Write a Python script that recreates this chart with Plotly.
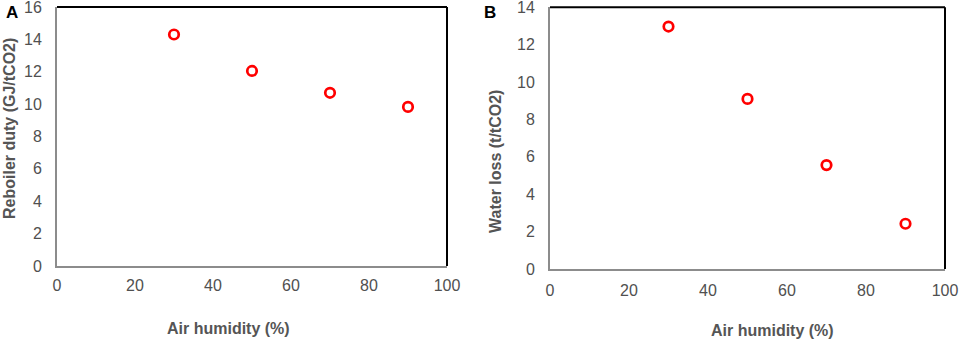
import plotly.graph_objects as go

humidity = [30, 50, 70, 90]
reboiler_duty = [14.3, 12.05, 10.7, 9.83]
water_loss = [12.97, 9.10, 5.56, 2.42]
x_ticks = [0, 20, 40, 60, 80, 100]
y_ticks_a = [0, 2, 4, 6, 8, 10, 12, 14, 16]
y_ticks_b = [0, 2, 4, 6, 8, 10, 12, 14]

W, H = 960, 340
fig = go.Figure()
marker = dict(symbol="circle-open", size=9.5, color="#FF0000", line=dict(width=2.7, color="#FF0000"))
fig.add_trace(go.Scatter(x=humidity, y=reboiler_duty, mode="markers", marker=marker,
                         xaxis="x", yaxis="y", showlegend=False, cliponaxis=False))
fig.add_trace(go.Scatter(x=humidity, y=water_loss, mode="markers", marker=marker,
                         xaxis="x2", yaxis="y2", showlegend=False, cliponaxis=False))

tickfont = dict(family="Liberation Sans, Arial", size=16, color="#505050")
axis_common = dict(showgrid=False, zeroline=False, showline=True, linecolor="#8C8C8C",
                   linewidth=2, ticks="", tickfont=tickfont, automargin=False,
                   ticklabeloverflow="allow")

fig.update_layout(
    width=W, height=H, margin=dict(l=0, r=0, t=0, b=0, autoexpand=False),
    paper_bgcolor="white", plot_bgcolor="white",
    xaxis=dict(domain=[57/W, 447/W], range=[0, 100], tickvals=x_ticks, anchor="y", ticklabelstandoff=4, **axis_common),
    yaxis=dict(domain=[1-266/H, 1-7/H], range=[0, 16], tickvals=y_ticks_a, anchor="x", ticklabelstandoff=10, **axis_common),
    xaxis2=dict(domain=[550/W, 945/W], range=[0, 100], tickvals=x_ticks, anchor="y2", ticklabelstandoff=6, **axis_common),
    yaxis2=dict(domain=[1-269/H, 1-7.3/H], range=[0, 14], tickvals=y_ticks_b, anchor="x2", ticklabelstandoff=10, **axis_common),
)

# top and right frame lines (black)
for xr, yr in [("x", "y"), ("x2", "y2")]:
    fig.add_shape(type="line", xref=f"{xr} domain", yref=f"{yr} domain", x0=0, x1=1, y0=1, y1=1,
                  line=dict(color="black", width=2))
    fig.add_shape(type="line", xref=f"{xr} domain", yref=f"{yr} domain", x0=1, x1=1, y0=0, y1=1,
                  line=dict(color="black", width=2))

title_font = dict(family="Liberation Sans, Arial", size=16, color="#555555")
fig.add_annotation(text="<b>Air humidity (%)</b>", xref="paper", yref="paper", x=228/W, y=1-328/H,
                   showarrow=False, font=title_font, xanchor="center", yanchor="middle")
fig.add_annotation(text="<b>Air humidity (%)</b>", xref="paper", yref="paper", x=772/W, y=1-330/H,
                   showarrow=False, font=title_font, xanchor="center", yanchor="middle")
fig.add_annotation(text="<b>Reboiler duty (GJ/tCO2)</b>", xref="paper", yref="paper", x=9/W, y=1-129/H,
                   showarrow=False, font=title_font, textangle=-90, xanchor="center", yanchor="middle")
fig.add_annotation(text="<b>Water loss (t/tCO2)</b>", xref="paper", yref="paper", x=495/W, y=1-162/H,
                   showarrow=False, font=title_font, textangle=-90, xanchor="center", yanchor="middle")

panel_font = dict(family="Liberation Sans, Arial", size=17, color="black")
fig.add_annotation(text="<b>A</b>", xref="paper", yref="paper", x=12/W, y=1-13/H,
                   showarrow=False, font=panel_font, xanchor="center", yanchor="middle")
fig.add_annotation(text="<b>B</b>", xref="paper", yref="paper", x=490/W, y=1-13/H,
                   showarrow=False, font=panel_font, xanchor="center", yanchor="middle")

fig.write_html("out.html", config={"displayModeBar": False},
               post_script="document.body.style.margin='0px';document.body.style.overflow='hidden';")
